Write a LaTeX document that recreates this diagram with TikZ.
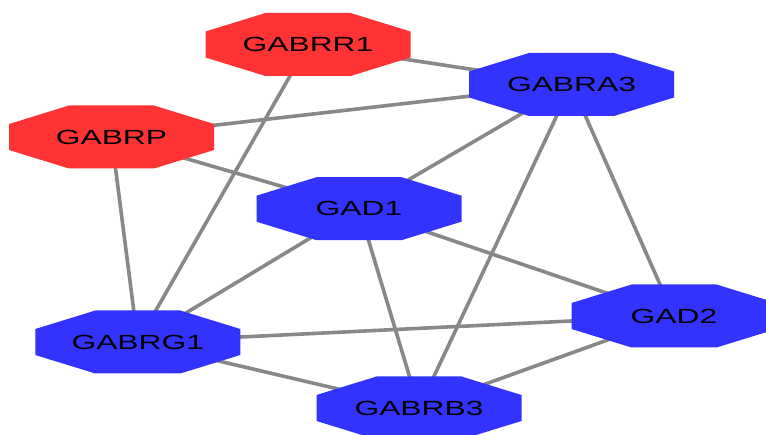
\documentclass[tikz,border=0pt]{standalone}
\usepackage{fontspec}
\setmainfont{Liberation Sans}
\usetikzlibrary{calc}
\pgfdeclarelayer{bglayer}
\pgfdeclarelayer{edgelayer}
\pgfdeclarelayer{shapelayer}
\pgfsetlayers{bglayer,edgelayer,shapelayer,main}
\definecolor{nodered}{RGB}{255,51,51}
\definecolor{nodeblue}{RGB}{51,51,255}
\definecolor{edgegray}{RGB}{136,136,136}
\newcommand\octshape[2]{%
  \fill[#2] (#1.center) ++(-42.5,31.5) -- ++(85,0) -- ++(60,-18.5) -- ++(0,-26)
    -- ++(-60,-18.5) -- ++(-85,0) -- ++(-60,18.5) -- ++(0,26) -- cycle;}
\tikzset{
  lbl/.style={inner sep=0pt, minimum width=205pt, minimum height=63pt,
    font=\fontsize{20.5}{24}\selectfont, text=black},
  link/.style={draw=edgegray, line width=3.6pt}
}
\newcommand\stretched[1]{\scalebox{1.55}[1]{#1}}
\begin{document}
\begin{tikzpicture}[x=1pt,y=1pt]
\useasboundingbox (0,0) rectangle (766,434);
\begin{pgfonlayer}{bglayer}
\fill[white] (0,0) rectangle (766,434);
\end{pgfonlayer}
\node[lbl] (rr1) at (308,389.5) {\stretched{GABRR1}};
\node[lbl] (rp) at (111.5,297) {\stretched{GABRP}};
\node[lbl] (ad1) at (359,225.3) {\stretched{GAD1}};
\node[lbl] (ra3) at (571.5,349.5) {\stretched{GABRA3}};
\node[lbl] (rg1) at (137.8,92) {\stretched{GABRG1}};
\node[lbl] (ad2) at (674,118) {\stretched{GAD2}};
\node[lbl] (rb3) at (419,26) {\stretched{GABRB3}};
\begin{pgfonlayer}{edgelayer}
\draw[link] (rr1.center) -- (ra3.center);
\draw[link] (rr1.center) -- (rg1.center);
\draw[link] (rp.center) -- (ra3.center);
\draw[link] (rp.center) -- (ad1.center);
\draw[link] (rp.center) -- (rg1.center);
\draw[link] (ra3.center) -- (ad1.center);
\draw[link] (ra3.center) -- (rb3.center);
\draw[link] (ra3.center) -- (ad2.center);
\draw[link] (ad1.center) -- (rg1.center);
\draw[link] (ad1.center) -- (rb3.center);
\draw[link] (ad1.center) -- (ad2.center);
\draw[link] (rg1.center) -- (ad2.center);
\draw[link] (rg1.center) -- (rb3.center);
\draw[link] (ad2.center) -- (rb3.center);
\end{pgfonlayer}
\begin{pgfonlayer}{shapelayer}
\octshape{rr1}{nodered}
\octshape{rp}{nodered}
\octshape{ad1}{nodeblue}
\octshape{ra3}{nodeblue}
\octshape{rg1}{nodeblue}
\octshape{ad2}{nodeblue}
\octshape{rb3}{nodeblue}
\end{pgfonlayer}
\end{tikzpicture}
\end{document}
